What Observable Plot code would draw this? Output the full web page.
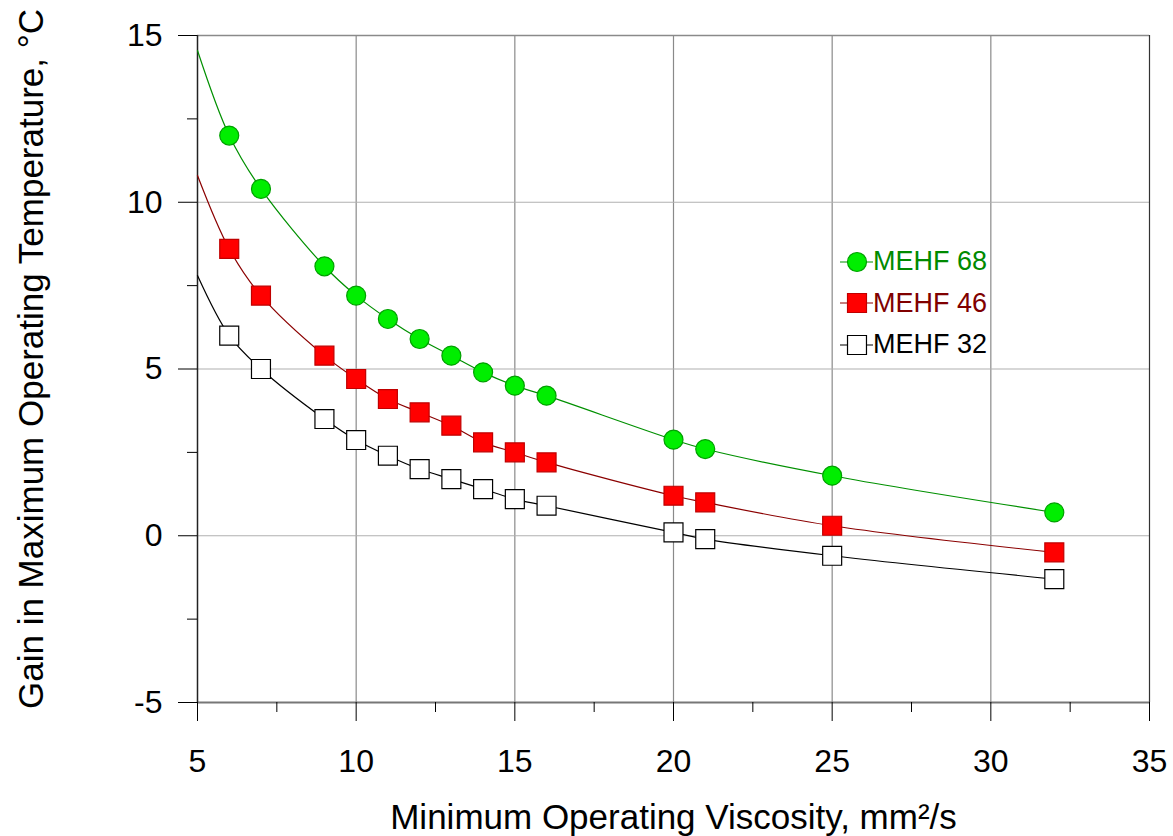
<!DOCTYPE html>
<html>
<head>
<meta charset="utf-8">
<script src="https://cdn.jsdelivr.net/npm/d3@7"></script>
<script src="https://cdn.jsdelivr.net/npm/@observablehq/plot@0.6"></script>
<style>
  html, body { margin: 0; padding: 0; background: #fff; }
  #wrap { position: relative; width: 1173px; height: 836px; font-family: "Liberation Sans", Arial, sans-serif; }
  #legend { position: absolute; left: 840px; top: 241px; font-size: 27px; line-height: 41.5px; }
  #legend div { display: flex; align-items: center; height: 41.5px; }
</style>
</head>
<body>
<div id="wrap">
  <div id="chart"></div>
  <div id="legend"></div>
</div>
<script>
// Data
const viscosity = [5, 6, 7, 9, 10, 11, 12, 13, 14, 15, 16, 20, 21, 25, 32];
const mehf68 = [14.55, 12.0, 10.4, 8.08, 7.2, 6.5, 5.9, 5.4, 4.9, 4.5, 4.2, 2.88, 2.6, 1.8, 0.7];
const mehf46 = [10.8, 8.6, 7.2, 5.4, 4.7, 4.1, 3.7, 3.3, 2.8, 2.5, 2.2, 1.2, 1.0, 0.3, -0.5];
const mehf32 = [7.8, 6.0, 5.0, 3.5, 2.87, 2.4, 2.0, 1.7, 1.4, 1.1, 0.9, 0.1, -0.1, -0.6, -1.3];
const seriesNames = ["MEHF 68", "MEHF 46", "MEHF 32"];
const xTicks = [5, 10, 15, 20, 25, 30, 35];
const xMinor = [7.5, 12.5, 17.5, 22.5, 27.5, 32.5];
const yTicks = [-5, 0, 5, 10, 15];
const yMinor = [-2.5, 2.5, 7.5, 12.5];

const styles = {
  "MEHF 68": {line: "#009000", fill: "#00ee00", stroke: "#00a000", symbol: "circle", r: 9.5, text: "#008a00"},
  "MEHF 46": {line: "#8b0000", fill: "#ff0000", stroke: "#c00000", symbol: "square", r: 10.7, text: "#800000"},
  "MEHF 32": {line: "#000000", fill: "#ffffff", stroke: "#000000", symbol: "square", r: 10.7, text: "#000000"}
};

const table = [];
[mehf68, mehf46, mehf32].forEach((vals, i) => {
  vals.forEach((v, j) => table.push({series: seriesNames[i], x: viscosity[j], y: v, marker: viscosity[j] !== 5}));
});

const fmt = d => String(d);
const font = "Liberation Sans, Arial, sans-serif";
const marks = [
  // grid
  Plot.ruleX(xTicks.slice(1, -1), {stroke: "#8a8a8a", strokeWidth: 1.2}),
  Plot.ruleY(yTicks.slice(1, -1), {stroke: "#b0b0b0", strokeWidth: 1.2}),
  Plot.ruleY([15], {stroke: "#8a8a8a", strokeWidth: 1.5}),
  Plot.ruleX([35], {stroke: "#333", strokeWidth: 1.2}),
  Plot.ruleY([-5], {stroke: "#777", strokeWidth: 2}),
  Plot.ruleX([5], {stroke: "#222", strokeWidth: 1.5}),
  // axes
  Plot.axisX(xTicks, {tickSize: 19, tickPadding: 28, fontSize: 32, tickFormat: fmt, stroke: "#000", fill: "#000", label: null}),
  Plot.axisX(xMinor, {tickSize: 10, tickFormat: () => "", stroke: "#000", label: null}),
  Plot.axisY(yTicks, {tickSize: 19, tickPadding: 16, fontSize: 32, tickFormat: fmt, stroke: "#000", fill: "#000", label: null}),
  Plot.axisY(yMinor, {tickSize: 10, tickFormat: () => "", stroke: "#000", label: null})
];
for (const s of seriesNames.slice().reverse()) {
  const st = styles[s];
  const d = table.filter(t => t.series === s);
  marks.push(Plot.line(d, {x: "x", y: "y", stroke: st.line, strokeWidth: 1.2, curve: "catmull-rom"}));
  marks.push(Plot.dot(d.filter(t => t.marker), {x: "x", y: "y", symbol: st.symbol, r: st.r, fill: st.fill, stroke: st.stroke, strokeWidth: 1.2}));
}

const chart = Plot.plot({
  width: 1173,
  height: 836,
  marginLeft: 197,
  marginRight: 24,
  marginTop: 35,
  marginBottom: 134,
  x: {domain: [5, 35], label: null},
  y: {domain: [-5, 15], label: null},
  style: {fontFamily: font, background: "#fff", color: "#000"},
  marks: [
    ...marks,
    Plot.text(["Minimum Operating Viscosity, mm²/s"], {frameAnchor: "bottom", lineAnchor: "middle", dy: 115, fontSize: 35, fill: "#000"}),
    Plot.text(["Gain in Maximum Operating Temperature, °C"], {frameAnchor: "left", dx: -166, dy: -10, rotate: -90, textAnchor: "middle", fontSize: 35, fill: "#000"})
  ]
});
document.getElementById("chart").appendChild(chart);

// Legend
const legend = document.getElementById("legend");
for (const s of seriesNames) {
  const st = styles[s];
  const row = document.createElement("div");
  const sw = d3.create("svg").attr("width", 33).attr("height", 30);
  sw.append("line").attr("x1", 0).attr("x2", 33).attr("y1", 15).attr("y2", 15).attr("stroke", st.line).attr("stroke-width", 1.2);
  const sym = st.symbol === "circle" ? d3.symbolCircle : d3.symbolSquare;
  sw.append("path").attr("d", d3.symbol(sym, Math.PI * st.r * st.r)()).attr("transform", "translate(17,15)")
    .attr("fill", st.fill).attr("stroke", st.stroke).attr("stroke-width", 1.2);
  row.appendChild(sw.node());
  const label = document.createElement("span");
  label.textContent = s;
  label.style.color = st.text;
  row.appendChild(label);
  legend.appendChild(row);
}
</script>
</body>
</html>
